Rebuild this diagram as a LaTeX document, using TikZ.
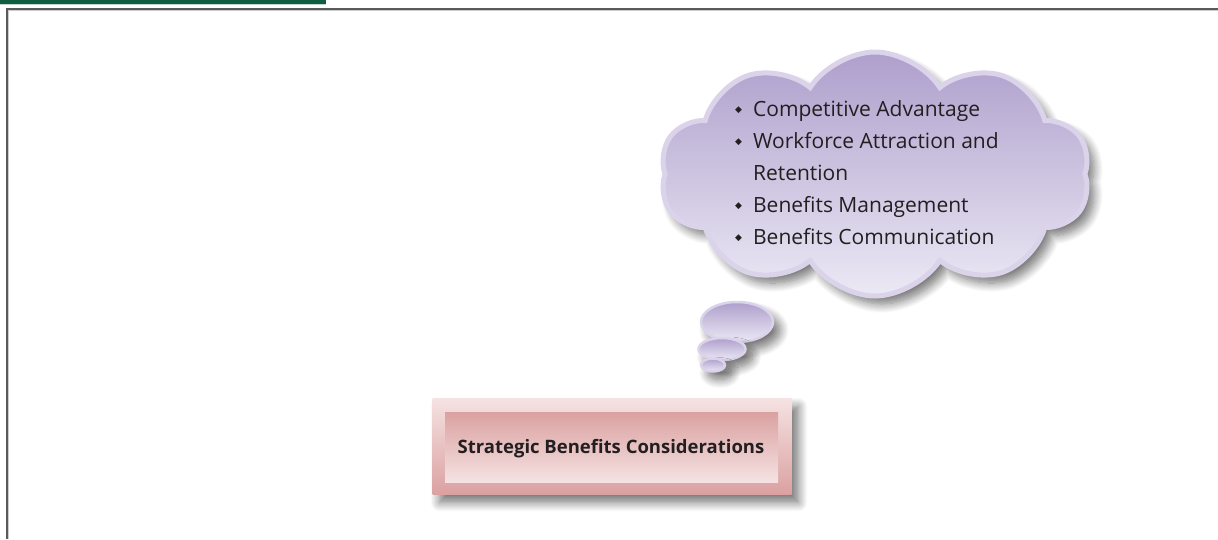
\documentclass[tikz,border=0pt]{standalone}
\usepackage{fontspec}
\setmainfont{Open Sans}
\newfontfamily\symfont{DejaVu Sans}
\usetikzlibrary{shapes.symbols,shapes.geometric,shadows.blur}
\definecolor{barGreen}{HTML}{0F5E40}
\definecolor{frameGray}{HTML}{5A5A5A}
\definecolor{lavTop}{HTML}{AE9FCC}
\definecolor{lavBot}{HTML}{ECE9F5}
\definecolor{lavRim}{HTML}{DAD3EA}
\definecolor{pinkLight}{HTML}{F5E2E2}
\definecolor{pinkDark}{HTML}{DBA1A1}
\definecolor{txtDark}{HTML}{231F20}
\newcommand{\bul}{{\symfont\fontsize{9}{9}\selectfont\raisebox{3.5pt}{◆}}}
\tikzset{
  softshadow/.style={blur shadow={shadow xshift=7pt, shadow yshift=-8pt, shadow blur steps=12, shadow blur radius=9pt, shadow opacity=55}},
  thought/.style={ellipse, top color=lavTop, bottom color=lavBot, draw=lavRim, line width=2.5pt, inner sep=0pt},
}
\begin{document}
\begin{tikzpicture}[x=1pt,y=1pt]
\useasboundingbox (0,0) rectangle (1218,-539);
% header bar
\fill[barGreen] (0,0) rectangle (326,-4);
\fill[barGreen!25] (0,-4) rectangle (326,-5);
% frame
\draw[frameGray, line width=2pt] (7,-539) -- (7,-9) -- (1218,-9);
\draw[gray!40, line width=0.6pt] (8.6,-539) -- (8.6,-10.6) -- (1218,-10.6);
% cloud
\node[cloud, cloud puffs=10, cloud puff arc=115, minimum width=430pt, minimum height=244pt,
      inner sep=0pt, top color=lavTop, bottom color=lavBot, draw=lavRim, line width=5pt,
      softshadow] (cloud) at (875,-174) {};
% thought bubbles
\node[thought, minimum width=72pt, minimum height=40pt, softshadow] (b1) at (737,-322) {};
\node[thought, minimum width=47pt, minimum height=22pt, softshadow] (b2) at (722,-349) {};
\node[thought, minimum width=24pt, minimum height=13pt, softshadow] (b3) at (713,-365) {};
% cloud text
\node[anchor=base west, inner sep=0pt, text=txtDark, font=\fontsize{21}{32}\selectfont] (list) at (735,-116)
{\begin{tabular}[t]{@{}l@{\hspace{11pt}}l@{}}
\bul & Competitive Advantage\\
\bul & Workforce Attraction and\\
     & Retention\\
\bul & Benefits Management\\
\bul & Benefits Communication
\end{tabular}};
% box
\node[rectangle, minimum width=359pt, minimum height=96pt, inner sep=0pt,
      top color=pinkLight, bottom color=pinkDark, softshadow] (outer) at (612,-446.5) {};
\node[rectangle, minimum width=333pt, minimum height=70pt, inner sep=0pt,
      top color=pinkDark, bottom color=pinkLight] (inner) at (611.5,-447) {};
\node[font=\bfseries\fontsize{18.5}{20}\selectfont, text=txtDark, inner sep=0pt, anchor=base] (title) at (611,-453) {Strategic Benefits Considerations};
\end{tikzpicture}
\end{document}
